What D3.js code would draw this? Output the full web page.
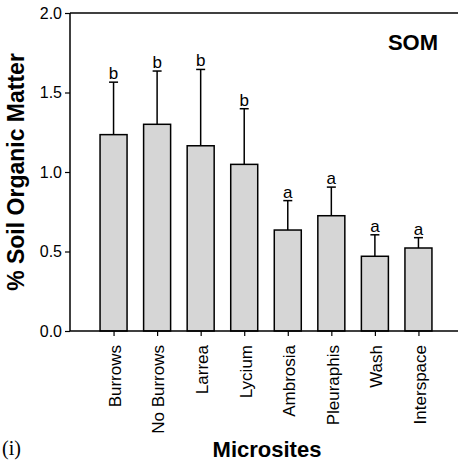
<!DOCTYPE html>
<html>
<head>
<meta charset="utf-8">
<script src="https://cdn.jsdelivr.net/npm/d3@7"></script>
<style>
  html, body { margin: 0; padding: 0; background: #fff; }
  svg { display: block; font-family: "Liberation Sans", Arial, sans-serif; }
</style>
</head>
<body>
<div id="chart"></div>
<script>
// Soil organic matter by microsite
const sites = ['Burrows', 'No Burrows', 'Larrea', 'Lycium', 'Ambrosia', 'Pleuraphis', 'Wash', 'Interspace'];
const means = [1.235, 1.30, 1.165, 1.048, 0.635, 0.725, 0.47, 0.522];
const errors = [0.33, 0.335, 0.48, 0.35, 0.185, 0.18, 0.135, 0.065];
const groups = ['b', 'b', 'b', 'b', 'a', 'a', 'a', 'a'];
const yTicks = [0, 0.5, 1.0, 1.5, 2.0];

const data = sites.map((s, i) => ({site: s, mean: means[i], err: errors[i], group: groups[i]}));

const width = 458, height = 464;
const plot = {left: 70, right: 462, top: 13, bottom: 331};

const svg = d3.select('#chart')
  .append('svg')
  .attr('width', width)
  .attr('height', height);

const x = d3.scalePoint()
  .domain(sites)
  .range([plot.left, plot.right])
  .padding(1);

const y = d3.scaleLinear()
  .domain([0, 2])
  .range([plot.bottom, plot.top]);

const barW = x.step() * 0.62;

// Error bars (upper only)
const eb = svg.append('g').attr('stroke', '#000').attr('stroke-width', 1.5);
eb.selectAll('.stem')
  .data(data)
  .enter()
  .append('line')
  .attr('x1', d => x(d.site))
  .attr('x2', d => x(d.site))
  .attr('y1', d => y(d.mean))
  .attr('y2', d => y(d.mean + d.err));
eb.selectAll('.cap')
  .data(data)
  .enter()
  .append('line')
  .attr('x1', d => x(d.site) - 4.5)
  .attr('x2', d => x(d.site) + 4.5)
  .attr('y1', d => y(d.mean + d.err))
  .attr('y2', d => y(d.mean + d.err));

// Bars
svg.selectAll('rect.bar')
  .data(data)
  .enter()
  .append('rect')
  .attr('class', 'bar')
  .attr('x', d => x(d.site) - barW / 2)
  .attr('y', d => y(d.mean))
  .attr('width', barW)
  .attr('height', d => y(0) - y(d.mean))
  .attr('fill', '#d6d6d6')
  .attr('stroke', '#000')
  .attr('stroke-width', 1.5);

// Significance letters
svg.selectAll('.letter')
  .data(data)
  .enter()
  .append('text')
  .attr('x', d => x(d.site))
  .attr('y', d => y(d.mean + d.err) - 3)
  .attr('text-anchor', 'middle')
  .style('font-size', '17px')
  .style('fill', '#000')
  .text(d => d.group);

// Axes
const yAxis = svg.append('g')
  .attr('transform', `translate(${plot.left},0)`)
  .call(d3.axisLeft(y).tickValues(yTicks).tickFormat(d3.format('.1f')).tickSize(5).tickPadding(3));
yAxis.selectAll('text').style('font-size', '16px').style('fill', '#000');

const xAxis = svg.append('g')
  .attr('transform', `translate(0,${plot.bottom})`)
  .call(d3.axisBottom(x).tickSize(5).tickSizeOuter(0));
xAxis.selectAll('text')
  .attr('transform', 'rotate(-90)')
  .attr('text-anchor', 'end')
  .attr('x', -14)
  .attr('y', 0)
  .attr('dy', '0.4em')
  .style('font-size', '17px')
  .style('fill', '#000');

svg.selectAll('.domain').remove();
svg.selectAll('.tick line').attr('stroke', '#000').attr('stroke-width', 1.2);

// Frame lines: left, bottom, top
const frame = svg.append('g').attr('stroke', '#000').attr('stroke-width', 1.5);
frame.append('line').attr('x1', plot.left).attr('x2', plot.left).attr('y1', y(2)).attr('y2', y(0));
frame.append('line').attr('x1', plot.left).attr('x2', width).attr('y1', y(0)).attr('y2', y(0));
frame.append('line').attr('x1', plot.left).attr('x2', width).attr('y1', y(2)).attr('y2', y(2));

// Titles
svg.append('text')
  .attr('transform', `translate(24,${(plot.top + plot.bottom) / 2}) rotate(-90)`)
  .attr('text-anchor', 'middle')
  .style('font-size', '23px')
  .style('font-weight', 'bold')
  .text('% Soil Organic Matter');

svg.append('text')
  .attr('x', 267)
  .attr('y', 457)
  .attr('text-anchor', 'middle')
  .style('font-size', '22px')
  .style('font-weight', 'bold')
  .text('Microsites');

svg.append('text')
  .attr('x', 438)
  .attr('y', 50)
  .attr('text-anchor', 'end')
  .style('font-size', '22px')
  .style('font-weight', 'bold')
  .text('SOM');

svg.append('text')
  .attr('x', 2)
  .attr('y', 455)
  .style('font-family', '"Liberation Serif", "Times New Roman", serif')
  .style('font-size', '20px')
  .text('(i)');
</script>
</body>
</html>
